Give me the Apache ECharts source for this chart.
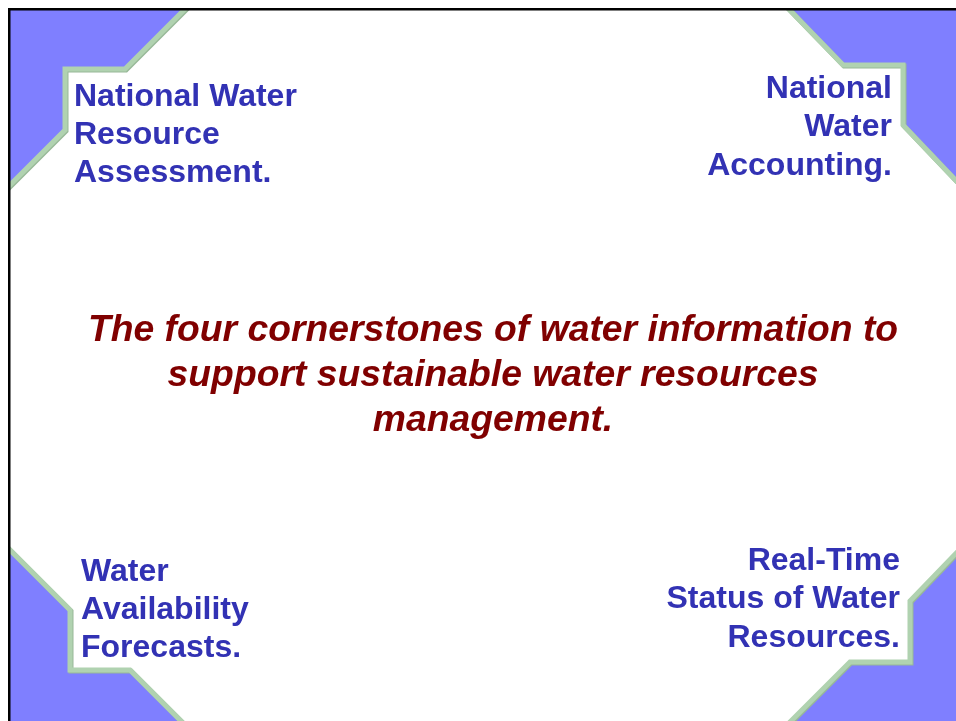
<!DOCTYPE html>
<html>
<head>
<meta charset="utf-8">
<script src="https://cdn.jsdelivr.net/npm/echarts@6/dist/echarts.min.js"></script>
<style>
  html, body { margin: 0; padding: 0; background: #fff; }
  #main { width: 956px; height: 721px; }
</style>
</head>
<body>
<div id="main"></div>
<script>
var titleLines = [
  "The four cornerstones of water information to",
  "support sustainable water resources",
  "management."
];
var topLeftText = ["National Water", "Resource", "Assessment."];
var topRightText = ["National", "Water", "Accounting."];
var bottomLeftText = ["Water", "Availability", "Forecasts."];
var bottomRightText = ["Real-Time", "Status of Water", "Resources."];

var myChart = echarts.init(document.getElementById("main"));

var blue = "#7f7fff";
var green = "#b0d2b0";
var labelColor = "#3232b4";
var titleColor = "#800000";

// corner shapes
var corners = [
  [[0, 0], [194, 0], [125, 69], [65, 69], [65, 130], [0, 195]],
  [[780, 0], [843, 65], [903, 65], [903, 125], [962, 187], [962, 0]],
  [[0, 540], [70, 610], [70, 670], [130, 670], [186, 726], [0, 726]],
  [[962, 547], [910, 601], [910, 662], [850, 662], [786, 726], [962, 726]]
];
// the green edge of each shape (without the image-edge points)
var edges = [
  [[194, 0], [125, 69], [65, 69], [65, 130], [0, 195]],
  [[780, 0], [843, 65], [903, 65], [903, 125], [962, 187]],
  [[0, 540], [70, 610], [70, 670], [130, 670], [186, 726]],
  [[962, 547], [910, 601], [910, 662], [850, 662], [786, 726]]
];

var graphics = [];
corners.forEach(function (pts) {
  graphics.push({
    type: "polygon",
    shape: { points: pts },
    style: { fill: blue }
  });
});
edges.forEach(function (pts) {
  graphics.push({
    type: "polyline",
    x: 1, y: 1,
    shape: { points: pts },
    style: { stroke: "#98b898", lineWidth: 5, fill: null, lineJoin: "miter" }
  });
  graphics.push({
    type: "polyline",
    shape: { points: pts },
    style: { stroke: green, lineWidth: 5, fill: null, lineJoin: "miter" }
  });
});

// white margin outside the frame, then the frame lines
graphics.push({ type: "rect", shape: { x: 0, y: 0, width: 956, height: 8 }, style: { fill: "#fff" } });
graphics.push({ type: "rect", shape: { x: 0, y: 0, width: 8, height: 721 }, style: { fill: "#fff" } });
graphics.push({ type: "rect", shape: { x: 8, y: 8, width: 948, height: 2.5 }, style: { fill: "#000" } });
graphics.push({ type: "rect", shape: { x: 8, y: 8, width: 2.5, height: 713 }, style: { fill: "#000" } });

function addLines(lines, x, firstBaseline, step, align, font, color, size) {
  lines.forEach(function (t, i) {
    graphics.push({
      type: "text",
      x: x,
      y: firstBaseline + i * step - size * 0.31,
      style: {
        text: t,
        font: font,
        fill: color,
        textAlign: align,
        textVerticalAlign: "middle"
      }
    });
  });
}

var labelFont = "bold 32px 'Liberation Sans', Arial, sans-serif";
addLines(topLeftText, 74, 107, 38, "left", labelFont, labelColor, 32);
addLines(topRightText, 892, 99, 38.5, "right", labelFont, labelColor, 32);
addLines(bottomLeftText, 81, 582, 38, "left", labelFont, labelColor, 32);
addLines(bottomRightText, 900, 571, 38.5, "right", labelFont, labelColor, 32);

addLines(titleLines, 493, 342, 45, "center",
  "italic bold 37.3px 'Liberation Sans', Arial, sans-serif", titleColor, 37.3);

var option = {
  backgroundColor: "#fff",
  graphic: { elements: graphics }
};

myChart.setOption(option);
</script>
</body>
</html>
